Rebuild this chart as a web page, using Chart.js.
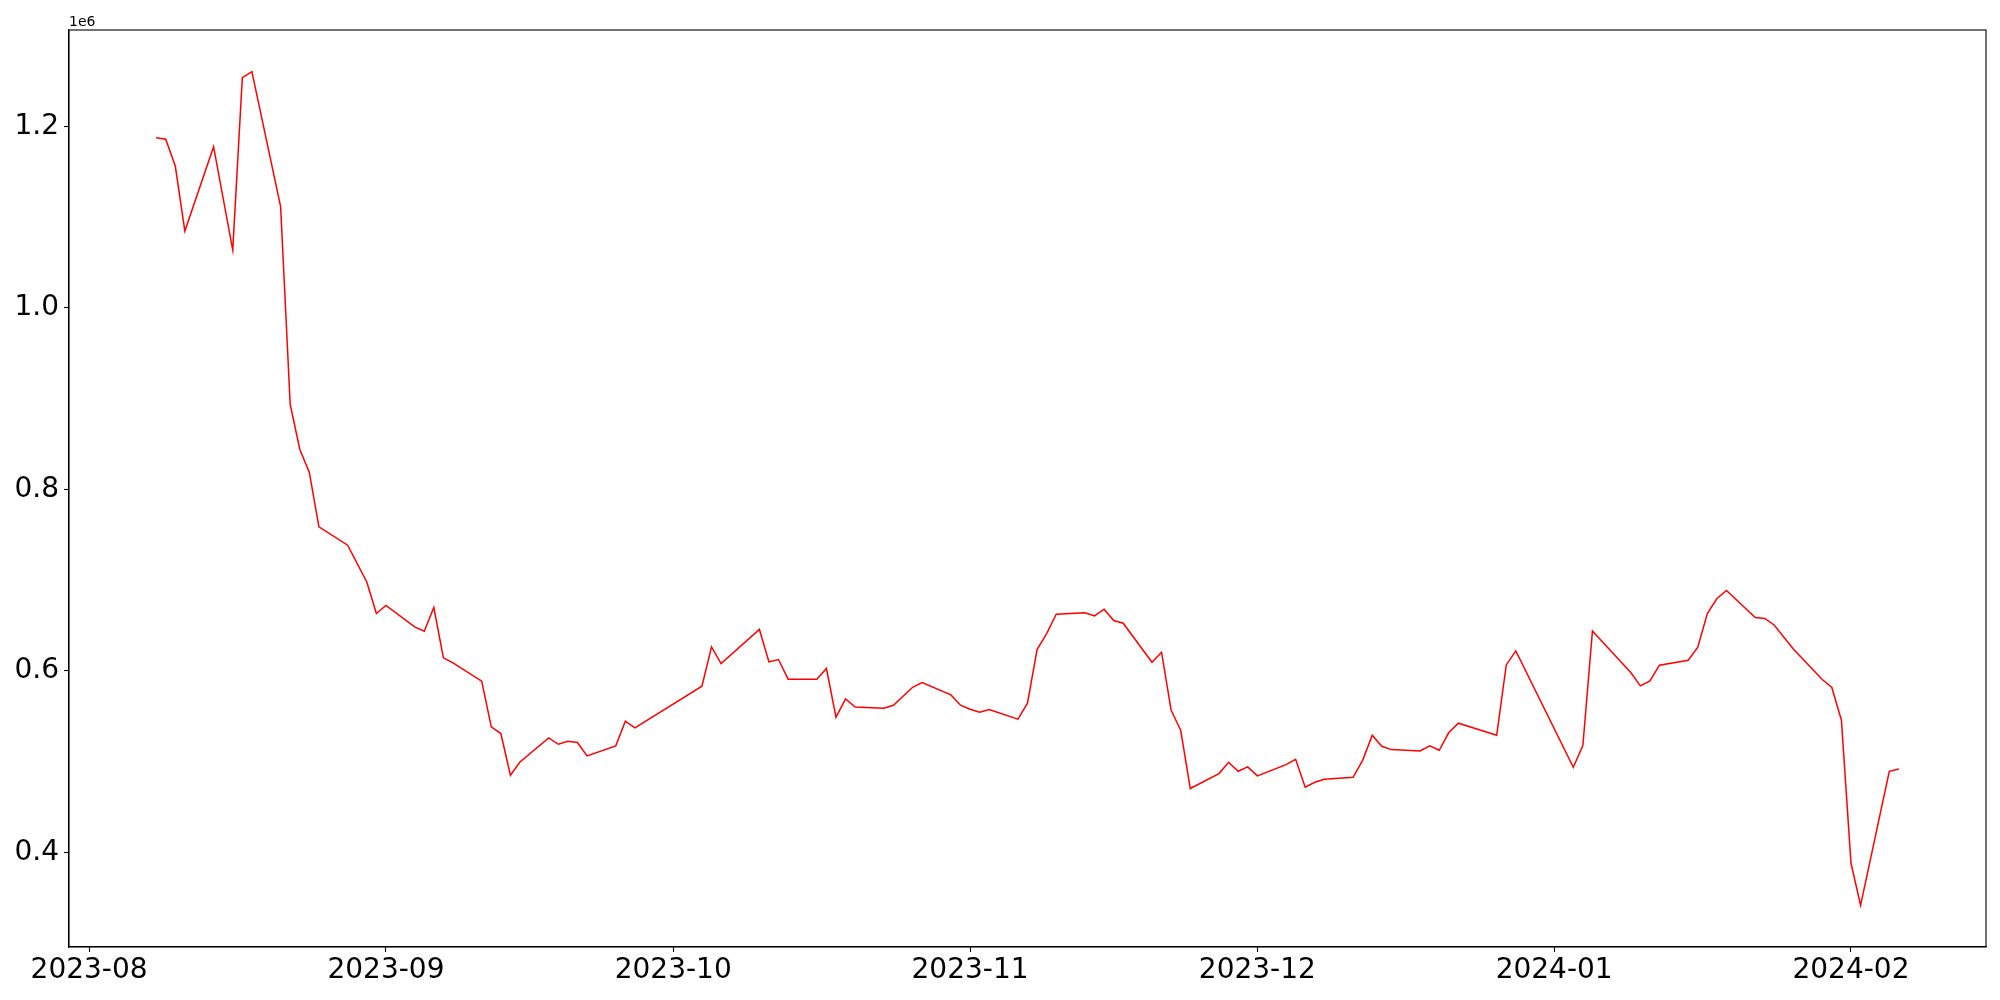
<!DOCTYPE html>
<html>
<head>
<meta charset="utf-8">
<script src="https://cdn.jsdelivr.net/npm/chart.js@4.4.1/dist/chart.umd.min.js"></script>
<style>
  html, body { margin: 0; padding: 0; background: #fff; }
  #wrap { width: 2000px; height: 1000px; position: relative; }
</style>
</head>
<body>
<div id="wrap"><canvas id="chart"></canvas></div>
<script>
// trading days and values
const dates = [
  "2023-08-08", "2023-08-09", "2023-08-10", "2023-08-11", "2023-08-14", "2023-08-16", "2023-08-17", "2023-08-18",
  "2023-08-21", "2023-08-22", "2023-08-23", "2023-08-24", "2023-08-25", "2023-08-28", "2023-08-30", "2023-08-31",
  "2023-09-01", "2023-09-04", "2023-09-05", "2023-09-06", "2023-09-07", "2023-09-08", "2023-09-11", "2023-09-12",
  "2023-09-13", "2023-09-14", "2023-09-15", "2023-09-18", "2023-09-19", "2023-09-20", "2023-09-21", "2023-09-22",
  "2023-09-25", "2023-09-26", "2023-09-27", "2023-10-04", "2023-10-05", "2023-10-06", "2023-10-10", "2023-10-11",
  "2023-10-12", "2023-10-13", "2023-10-16", "2023-10-17", "2023-10-18", "2023-10-19", "2023-10-20", "2023-10-23",
  "2023-10-24", "2023-10-26", "2023-10-27", "2023-10-30", "2023-10-31", "2023-11-01", "2023-11-02", "2023-11-03",
  "2023-11-06", "2023-11-07", "2023-11-08", "2023-11-09", "2023-11-10", "2023-11-13", "2023-11-14", "2023-11-15",
  "2023-11-16", "2023-11-17", "2023-11-20", "2023-11-21", "2023-11-22", "2023-11-23", "2023-11-24", "2023-11-27",
  "2023-11-28", "2023-11-29", "2023-11-30", "2023-12-01", "2023-12-04", "2023-12-05", "2023-12-06", "2023-12-07",
  "2023-12-08", "2023-12-11", "2023-12-12", "2023-12-13", "2023-12-14", "2023-12-15", "2023-12-18", "2023-12-19",
  "2023-12-20", "2023-12-21", "2023-12-22", "2023-12-26", "2023-12-27", "2023-12-28", "2024-01-03", "2024-01-04",
  "2024-01-05", "2024-01-09", "2024-01-10", "2024-01-11", "2024-01-12", "2024-01-15", "2024-01-16", "2024-01-17",
  "2024-01-18", "2024-01-19", "2024-01-22", "2024-01-23", "2024-01-24", "2024-01-26", "2024-01-29", "2024-01-30",
  "2024-01-31", "2024-02-01", "2024-02-02", "2024-02-05", "2024-02-06"
];
const values = [
  1187700, 1185900, 1156400, 1084800, 1177700, 1063800, 1253800, 1260400,
  1111600, 893700, 844400, 818800, 758800, 738600, 698100, 663300,
  672100, 648600, 643800, 669900, 614400, 608800, 588700, 538300,
  531000, 485000, 499700, 526200, 519200, 522500, 521100, 506300,
  517400, 544600, 537200, 583200, 626500, 608100, 645700, 610000,
  612600, 590900, 590900, 602700, 549000, 569200, 560300, 558900,
  562200, 582000, 587200, 573600, 562200, 557800, 554500, 557500,
  546800, 564400, 623600, 641200, 662500, 664000, 660700, 668000,
  655600, 652600, 609600, 620600, 556700, 534600, 470400, 486900,
  499400, 489400, 494200, 484300, 496800, 502700, 471800, 477300,
  480600, 482800, 501500, 529100, 517000, 513300, 511800, 517400,
  512600, 532100, 542400, 529100, 606600, 622100, 493800, 517800,
  644100, 598300, 583500, 589000, 606300, 611800, 626100, 663300,
  679800, 688700, 658900, 657800, 650400, 623900, 590500, 581700,
  545700, 388300, 341700, 489400, 492000
];

// axis ticks
const xTickDates = ["2023-08-01", "2023-09-01", "2023-10-01", "2023-11-01", "2023-12-01", "2024-01-01", "2024-02-01"];
const xTickLabels = ["2023-08", "2023-09", "2023-10", "2023-11", "2023-12", "2024-01", "2024-02"];
const yTickValues = [400000, 600000, 800000, 1000000, 1200000];
const yTickLabels = ["0.4", "0.6", "0.8", "1.0", "1.2"];

const DAY = 86400000;
const origin = Date.parse("2023-08-01");
const toDay = d => (Date.parse(d) - origin) / DAY;

const points = dates.map((d, i) => ({ x: toDay(d), y: values[i] }));
const xTicks = xTickDates.map(toDay);

// matplotlib-like 5% margins
const xFirst = points[0].x, xLast = points[points.length - 1].x;
const xPad = (xLast - xFirst) * 0.05;
const yMinV = Math.min(...values), yMaxV = Math.max(...values);
const yPad = (yMaxV - yMinV) * 0.05;

const font = { family: "DejaVu Sans", size: 28 };

// frame round the plot area + offset text
const framePlugin = {
  id: "frame",
  afterDraw(chart) {
    const { ctx, chartArea: a } = chart;
    ctx.save();
    ctx.strokeStyle = "#000";
    ctx.lineWidth = 1.1;
    ctx.strokeRect(a.left, a.top, a.right - a.left, a.bottom - a.top);
    ctx.fillStyle = "#000";
    ctx.font = "14px 'DejaVu Sans'";
    ctx.textAlign = "left";
    ctx.textBaseline = "alphabetic";
    ctx.fillText("1e6", a.left, a.top - 4);
    ctx.restore();
  }
};

new Chart(document.getElementById("chart"), {
  type: "line",
  data: {
    datasets: [{
      data: points,
      borderColor: "#ff0000",
      borderWidth: 1.5,
      pointRadius: 0,
      tension: 0,
      fill: false
    }]
  },
  options: {
    responsive: true,
    maintainAspectRatio: false,
    animation: false,
    layout: { padding: { top: 30, right: 14, left: 0, bottom: 0 } },
    plugins: { legend: { display: false }, tooltip: { enabled: false } },
    scales: {
      x: {
        type: "linear",
        min: xFirst - xPad,
        max: xLast + xPad,
        afterBuildTicks: s => { s.ticks = xTicks.map(v => ({ value: v })); },
        afterFit: s => { s.height = 53; },
        ticks: {
          font, color: "#000", padding: 2, maxRotation: 0, autoSkip: false,
          callback: v => xTickLabels[xTicks.indexOf(v)]
        },
        grid: { drawOnChartArea: false, drawTicks: true, tickLength: 5, tickColor: "#000", tickWidth: 1.1 },
        border: { color: "#000", width: 1.1 }
      },
      y: {
        type: "linear",
        min: yMinV - yPad,
        max: yMaxV + yPad,
        afterBuildTicks: s => { s.ticks = yTickValues.map(v => ({ value: v })); },
        afterFit: s => { s.width = 69; },
        ticks: {
          font, color: "#000", padding: 5,
          callback: v => yTickLabels[yTickValues.indexOf(v)]
        },
        grid: { drawOnChartArea: false, drawTicks: true, tickLength: 5, tickColor: "#000", tickWidth: 1.1 },
        border: { color: "#000", width: 1.1 }
      }
    }
  },
  plugins: [framePlugin]
});
</script>
</body>
</html>
